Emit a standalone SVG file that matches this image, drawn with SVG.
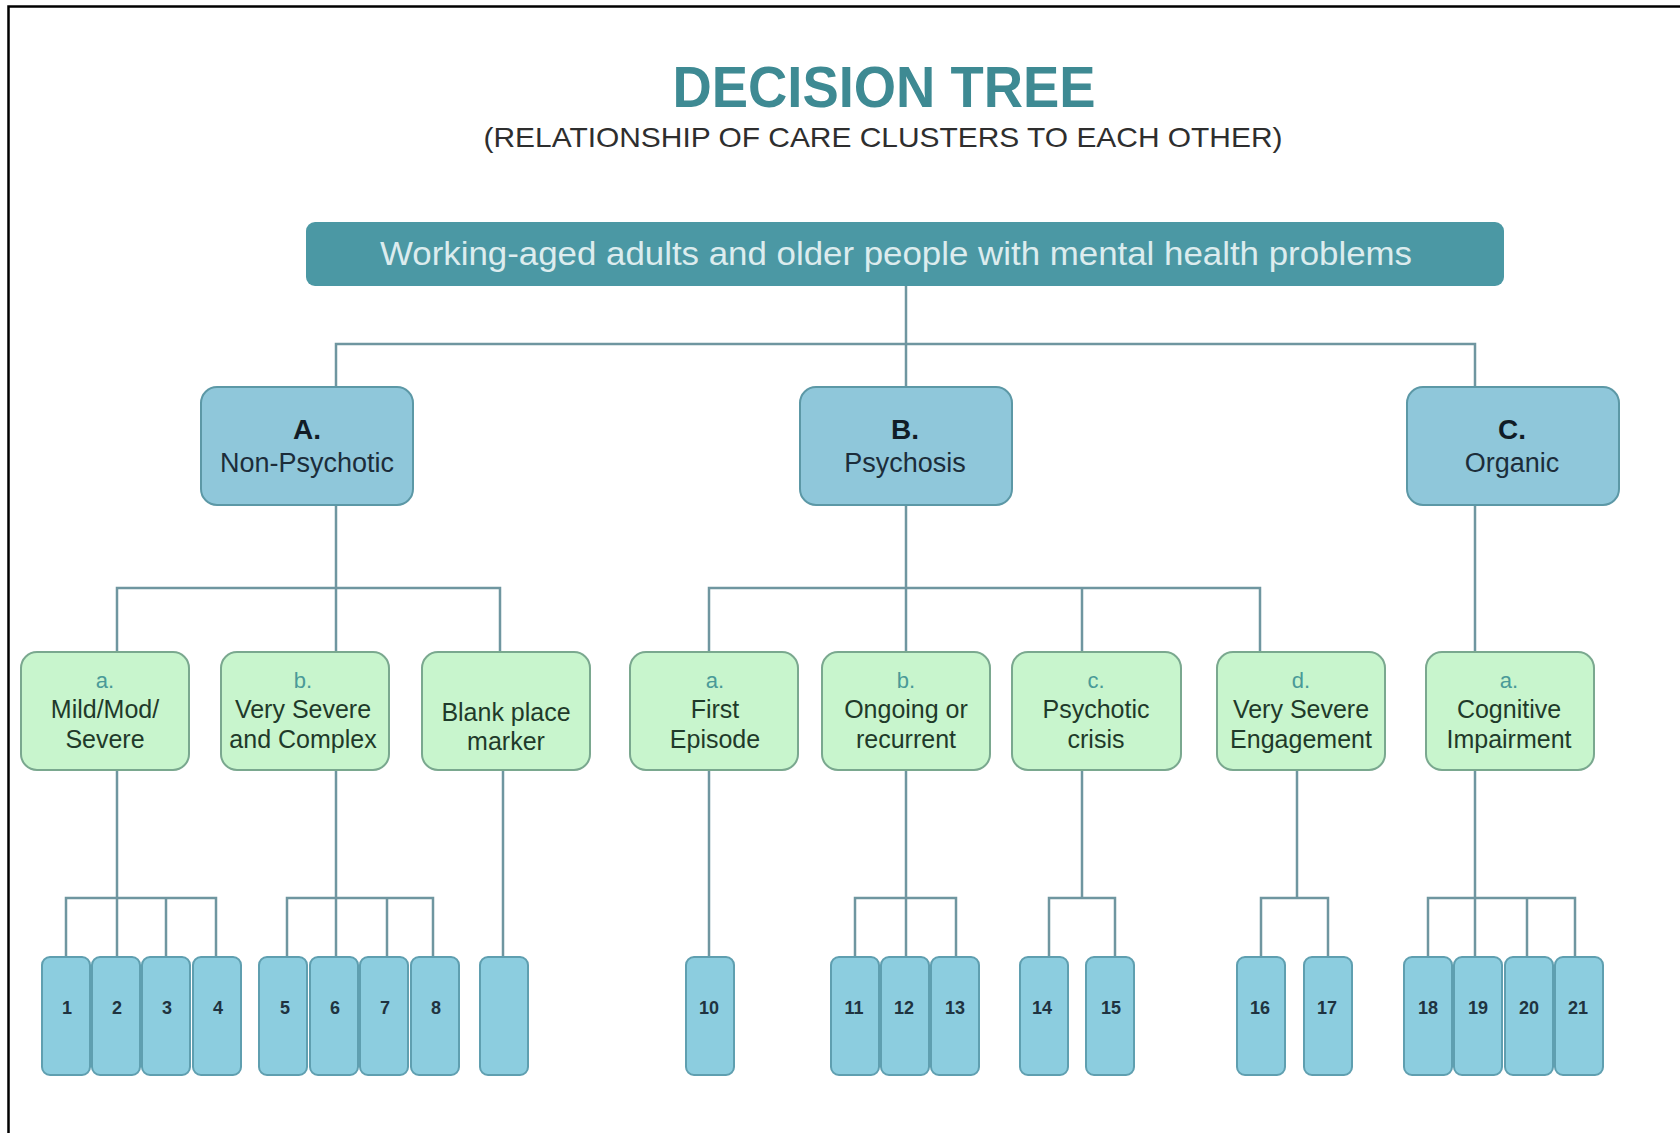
<svg xmlns="http://www.w3.org/2000/svg" width="1680" height="1133" viewBox="0 0 1680 1133">
<style>
text{font-family:"Liberation Sans",Arial,sans-serif;text-anchor:middle}
.title{font-size:57px;font-weight:bold;fill:#3e8a93}
.sub{font-size:28px;fill:#2e2e2e}
.bar{fill:#4b98a4}
.bartxt{font-size:34px;fill:#dcecee}
.l1{fill:#8fc7da;stroke:#5c98a6;stroke-width:2}
.l1h{font-size:28px;font-weight:bold;fill:#111c26}
.l1t{font-size:27px;fill:#1c2d3a}
.l2{fill:#c8f5cd;stroke:#7aa88f;stroke-width:2}
.l2h{font-size:22px;fill:#4a9a98}
.l2t{font-size:25px;fill:#1f3a2a}
.l3{fill:#8ccddf;stroke:#5f9fb0;stroke-width:2}
.num{font-size:18px;font-weight:bold;fill:#1f3340}
.conn{fill:none;stroke:#6f96a0;stroke-width:2.5}
.frame{fill:none;stroke:#000;stroke-width:2.5}
</style>
<rect x="0" y="0" width="1680" height="1133" fill="#fff"/>
<path class="frame" d="M8.5,1133 V6.5 H1680"/>
<text class="title" x="884" y="107" textLength="423" lengthAdjust="spacingAndGlyphs">DECISION TREE</text>
<text class="sub" x="883" y="147" textLength="799" lengthAdjust="spacingAndGlyphs">(RELATIONSHIP OF CARE CLUSTERS TO EACH OTHER)</text>

<g id="connectors">
<path class="conn" d="M906,286 V387 M336,387 V344 H1475 V387"/>
<path class="conn" d="M336,505 V957 M117,652 V588 H500 V652"/>
<path class="conn" d="M906,505 V957 M709,652 V588 H1260 V652 M1082,588 V652"/>
<path class="conn" d="M1475,505 V957"/>
<path class="conn" d="M117,770 V957 M66,957 V898 H216 V957 M166,898 V957"/>
<path class="conn" d="M287,957 V898 H433 V957 M387,898 V957"/>
<path class="conn" d="M503,770 V957"/>
<path class="conn" d="M709,770 V957"/>
<path class="conn" d="M855,957 V898 H956 V957"/>
<path class="conn" d="M1082,770 V898 M1049,957 V898 H1115 V957"/>
<path class="conn" d="M1297,770 V898 M1261,957 V898 H1328 V957"/>
<path class="conn" d="M1428,957 V898 H1575 V957 M1527,898 V957"/>
</g>

<g id="root">
<rect class="bar" x="306" y="222" width="1198" height="64" rx="9"/>
<text class="bartxt" x="896" y="265" textLength="1032" lengthAdjust="spacingAndGlyphs">Working-aged adults and older people with mental health problems</text>
</g>

<g id="A">
<rect class="l1" x="201" y="387" width="212" height="118" rx="16"/>
<text class="l1h" x="307" y="439">A.</text>
<text class="l1t" x="307" y="472">Non-Psychotic</text>
</g>
<g id="B">
<rect class="l1" x="800" y="387" width="212" height="118" rx="16"/>
<text class="l1h" x="905" y="439">B.</text>
<text class="l1t" x="905" y="472">Psychosis</text>
</g>
<g id="C">
<rect class="l1" x="1407" y="387" width="212" height="118" rx="16"/>
<text class="l1h" x="1512" y="439">C.</text>
<text class="l1t" x="1512" y="472">Organic</text>
</g>

<g id="Aa">
<rect class="l2" x="21" y="652" width="168" height="118" rx="16"/>
<text class="l2h" x="105" y="688">a.</text>
<text class="l2t" x="105" y="718">Mild/Mod/</text>
<text class="l2t" x="105" y="748">Severe</text>
</g>
<g id="Ab">
<rect class="l2" x="221" y="652" width="168" height="118" rx="16"/>
<text class="l2h" x="303" y="688">b.</text>
<text class="l2t" x="303" y="718">Very Severe</text>
<text class="l2t" x="303" y="748">and Complex</text>
</g>
<g id="Ablank">
<rect class="l2" x="422" y="652" width="168" height="118" rx="16"/>
<text class="l2t" x="506" y="721">Blank place</text>
<text class="l2t" x="506" y="750">marker</text>
</g>
<g id="Ba">
<rect class="l2" x="630" y="652" width="168" height="118" rx="16"/>
<text class="l2h" x="715" y="688">a.</text>
<text class="l2t" x="715" y="718">First</text>
<text class="l2t" x="715" y="748">Episode</text>
</g>
<g id="Bb">
<rect class="l2" x="822" y="652" width="168" height="118" rx="16"/>
<text class="l2h" x="906" y="688">b.</text>
<text class="l2t" x="906" y="718">Ongoing or</text>
<text class="l2t" x="906" y="748">recurrent</text>
</g>
<g id="Bc">
<rect class="l2" x="1012" y="652" width="169" height="118" rx="16"/>
<text class="l2h" x="1096" y="688">c.</text>
<text class="l2t" x="1096" y="718">Psychotic</text>
<text class="l2t" x="1096" y="748">crisis</text>
</g>
<g id="Bd">
<rect class="l2" x="1217" y="652" width="168" height="118" rx="16"/>
<text class="l2h" x="1301" y="688">d.</text>
<text class="l2t" x="1301" y="718">Very Severe</text>
<text class="l2t" x="1301" y="748">Engagement</text>
</g>
<g id="Ca">
<rect class="l2" x="1426" y="652" width="168" height="118" rx="16"/>
<text class="l2h" x="1509" y="688">a.</text>
<text class="l2t" x="1509" y="718">Cognitive</text>
<text class="l2t" x="1509" y="748">Impairment</text>
</g>

<g id="n1"><rect class="l3" x="42" y="957" width="48" height="118" rx="8"/><text class="num" x="67" y="1014">1</text></g>
<g id="n2"><rect class="l3" x="92" y="957" width="48" height="118" rx="8"/><text class="num" x="117" y="1014">2</text></g>
<g id="n3"><rect class="l3" x="142" y="957" width="48" height="118" rx="8"/><text class="num" x="167" y="1014">3</text></g>
<g id="n4"><rect class="l3" x="193" y="957" width="48" height="118" rx="8"/><text class="num" x="218" y="1014">4</text></g>
<g id="n5"><rect class="l3" x="259" y="957" width="48" height="118" rx="8"/><text class="num" x="285" y="1014">5</text></g>
<g id="n6"><rect class="l3" x="310" y="957" width="48" height="118" rx="8"/><text class="num" x="335" y="1014">6</text></g>
<g id="n7"><rect class="l3" x="360" y="957" width="48" height="118" rx="8"/><text class="num" x="385" y="1014">7</text></g>
<g id="n8"><rect class="l3" x="411" y="957" width="48" height="118" rx="8"/><text class="num" x="436" y="1014">8</text></g>
<g id="nblank"><rect class="l3" x="480" y="957" width="48" height="118" rx="8"/></g>
<g id="n10"><rect class="l3" x="686" y="957" width="48" height="118" rx="8"/><text class="num" x="709" y="1014">10</text></g>
<g id="n11"><rect class="l3" x="831" y="957" width="48" height="118" rx="8"/><text class="num" x="854" y="1014">11</text></g>
<g id="n12"><rect class="l3" x="881" y="957" width="48" height="118" rx="8"/><text class="num" x="904" y="1014">12</text></g>
<g id="n13"><rect class="l3" x="931" y="957" width="48" height="118" rx="8"/><text class="num" x="955" y="1014">13</text></g>
<g id="n14"><rect class="l3" x="1020" y="957" width="48" height="118" rx="8"/><text class="num" x="1042" y="1014">14</text></g>
<g id="n15"><rect class="l3" x="1086" y="957" width="48" height="118" rx="8"/><text class="num" x="1111" y="1014">15</text></g>
<g id="n16"><rect class="l3" x="1237" y="957" width="48" height="118" rx="8"/><text class="num" x="1260" y="1014">16</text></g>
<g id="n17"><rect class="l3" x="1304" y="957" width="48" height="118" rx="8"/><text class="num" x="1327" y="1014">17</text></g>
<g id="n18"><rect class="l3" x="1404" y="957" width="48" height="118" rx="8"/><text class="num" x="1428" y="1014">18</text></g>
<g id="n19"><rect class="l3" x="1454" y="957" width="48" height="118" rx="8"/><text class="num" x="1478" y="1014">19</text></g>
<g id="n20"><rect class="l3" x="1505" y="957" width="48" height="118" rx="8"/><text class="num" x="1529" y="1014">20</text></g>
<g id="n21"><rect class="l3" x="1555" y="957" width="48" height="118" rx="8"/><text class="num" x="1578" y="1014">21</text></g>
</svg>
